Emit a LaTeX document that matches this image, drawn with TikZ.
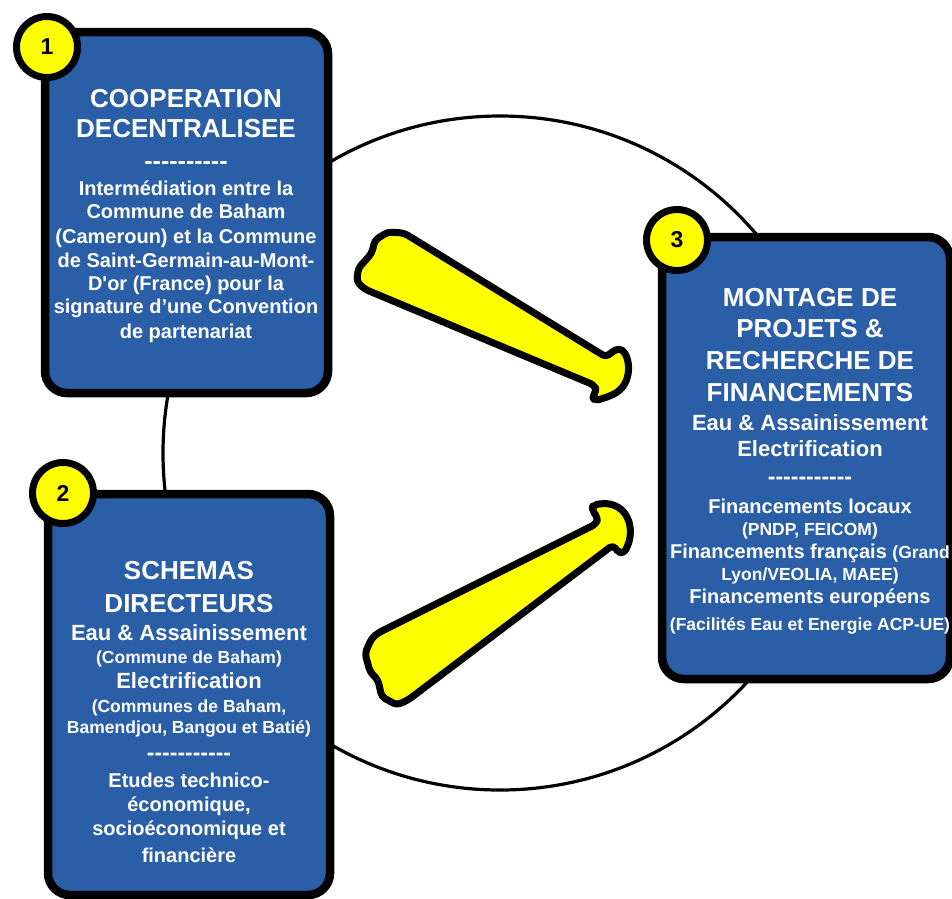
\documentclass[tikz,border=0pt]{standalone}
\usepackage{fontspec}
\setmainfont{Liberation Sans}[Ligatures=TeXOff]
\definecolor{boxblue}{RGB}{42,94,166}
\definecolor{arrowyellow}{RGB}{255,255,0}
\tikzset{
  box/.style={draw=black, line width=8.5pt, fill=boxblue, rounded corners=22pt, inner sep=0pt},
  num/.style={circle, draw=black, line width=7pt, fill=arrowyellow, minimum size=61pt, inner sep=0pt},
  numtxt/.style={inner sep=0pt, font=\fontsize{23}{23}\selectfont\bfseries},
  ttl/.style={text=white, inner sep=0pt, anchor=base, font=\fontsize{26}{26}\selectfont\bfseries},
  sub/.style={text=white, inner sep=0pt, anchor=base, font=\fontsize{22}{22}\selectfont\bfseries},
  body/.style={text=white, inner sep=0pt, anchor=base, font=\fontsize{20}{20}\selectfont\bfseries},
  small/.style={text=white, inner sep=0pt, anchor=base, font=\fontsize{17.5}{17.5}\selectfont\bfseries},
  dashline/.style={text=white, inner sep=0pt, anchor=base, font=\fontsize{25}{25}\selectfont\bfseries},
  bigarrow/.style={draw=black, line width=7pt, fill=arrowyellow, line join=round, rounded corners=4pt},
  ring/.style={circle, draw=black, line width=3.2pt, inner sep=0pt}
}
\begin{document}
\begin{tikzpicture}[x=1pt,y=-1pt]
\useasboundingbox (0,0) rectangle (952,898);
% background ring
\node[ring, minimum size=674pt] (ring) at (500,453) {};
% boxes
\node[box, minimum width=283pt, minimum height=361pt] (b1) at (186.5,212.5) {};
\node[box, minimum width=282pt, minimum height=401pt] (b2) at (189,694.5) {};
\node[box, minimum width=288pt, minimum height=442pt] (b3) at (806,458) {};
% number badges
\node[num] (n1) at (47,47) {};
\node[numtxt] (n1t) at (n1) {1};
\node[num] (n2) at (63,493) {};
\node[numtxt] (n2t) at (n2) {2};
\node[num] (n3) at (677,240) {};
\node[numtxt] (n3t) at (n3) {3};
% arrows
\path[bigarrow] (404,233) -- (606,357) -- (612,352) -- (619,348)
  .. controls (630,356) and (634,384) .. (610,396)
  -- (595,401) -- (592,396) -- (597,391) -- (594,385) -- (365,289.3)
  -- (356.7,281.7) -- (358.3,268.3) -- (371.7,253.3) -- (375,240) -- (388,232) -- cycle;
\path[bigarrow] (378,633) -- (596,524) -- (598,518) -- (592,510) -- (593,505) -- (603.3,503.3)
  .. controls (630,506) and (636,533) .. (623,554)
  -- (617,551) -- (613,545) -- (408,700) -- (396.7,705) -- (381.7,696.7)
  -- (378,680) -- (370,671.7) -- (365,653.3) -- (371.7,638.3) -- cycle;
% box 1 text
\node[ttl] (t1a) at (186,107) {COOPERATION};
\node[ttl] (t1b) at (186,137) {DECENTRALISEE};
\node[dashline] (t1c) at (186,169) {----------};
\node[body] (t1d) at (186,195) {Intermédiation entre la};
\node[body] (t1e) at (186,218) {Commune de Baham};
\node[body] (t1f) at (186,243) {(Cameroun) et la Commune};
\node[body] (t1g) at (186,267) {de Saint-Germain-au-Mont-};
\node[body] (t1h) at (186,290) {D'or (France) pour la};
\node[body] (t1i) at (186,313) {signature d’une Convention};
\node[body] (t1j) at (186,338) {de partenariat};
% box 2 text
\node[ttl] (t2a) at (189,579) {SCHEMAS};
\node[ttl] (t2b) at (189,612) {DIRECTEURS};
\node[sub] (t2c) at (189,640) {Eau \& Assainissement};
\node[small] (t2d) at (189,663) {(Commune de Baham)};
\node[sub] (t2e) at (189,688) {Electrification};
\node[small] (t2f) at (189,712) {(Communes de Baham,};
\node[small] (t2g) at (189,733) {Bamendjou, Bangou et Batié)};
\node[dashline, font=\fontsize{23}{23}\selectfont\bfseries] (t2h) at (189,760) {-----------};
\node[body] (t2i) at (189,787) {Etudes technico-};
\node[body] (t2j) at (189,811) {économique,};
\node[body] (t2k) at (189,835) {socioéconomique et};
\node[body] (t2l) at (189,862) {financière};
% box 3 text
\node[ttl] (t3a) at (810,306) {MONTAGE DE};
\node[ttl] (t3b) at (810,337) {PROJETS \&};
\node[ttl] (t3c) at (810,369) {RECHERCHE DE};
\node[ttl] (t3d) at (810,401) {FINANCEMENTS};
\node[sub] (t3e) at (810,430) {Eau \& Assainissement};
\node[sub] (t3f) at (810,456) {Electrification};
\node[dashline, font=\fontsize{23}{23}\selectfont\bfseries] (t3g) at (810,484) {-----------};
\node[body] (t3h) at (810,513) {Financements locaux};
\node[small] (t3i) at (810,535) {(PNDP, FEICOM)};
\node[body] (t3j) at (810,558) {Financements français {\fontsize{17.5}{17.5}\selectfont(Grand}};
\node[small] (t3k) at (810,580) {Lyon/VEOLIA, MAEE)};
\node[body] (t3l) at (810,603) {Financements européens};
\node[small] (t3m) at (810,630) {(Facilités Eau et Energie ACP-UE)};
\end{tikzpicture}
\end{document}
